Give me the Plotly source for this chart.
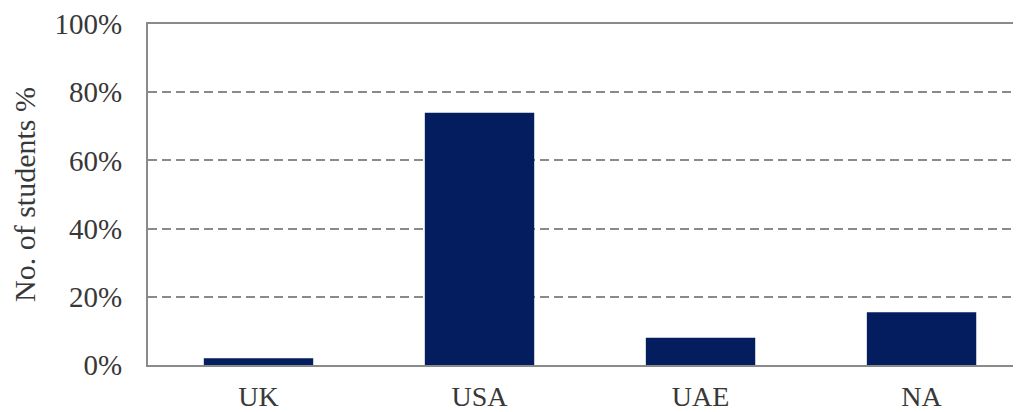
import plotly.graph_objects as go

categories = ["UK", "USA", "UAE", "NA"]
values = [2, 74, 8, 15.5]
y_ticks = [0, 20, 40, 60, 80, 100]
y_tick_labels = ["0%", "20%", "40%", "60%", "80%", "100%"]

fig = go.Figure()
fig.add_trace(go.Bar(
    x=categories, y=values,
    marker=dict(color="#041d5e", line=dict(width=0)),
))

font_family = "Liberation Serif, Times New Roman, serif"
# page body has an 8px margin, so figure is sized to fit the 1021x412 window
fig.update_layout(
    width=1013, height=404,
    margin=dict(l=140, r=0, t=16, b=47),
    plot_bgcolor="white", paper_bgcolor="white",
    bargap=0.505,
    showlegend=False,
    font=dict(family=font_family, size=28, color="#383838"),
)
fig.update_xaxes(
    range=[-0.5, 3.45], automargin=False,
    showline=True, linecolor="#8a8a8a", linewidth=2, mirror=True,
    ticks="outside", ticklen=5, tickcolor="rgba(0,0,0,0)",
    tickfont=dict(size=28, family=font_family, color="#383838"),
    showgrid=False,
)
fig.update_yaxes(
    range=[0, 100], automargin=False,
    tickvals=y_ticks, ticktext=y_tick_labels,
    showline=True, linecolor="#8a8a8a", linewidth=2,
    ticks="outside", ticklen=18, tickcolor="rgba(0,0,0,0)",
    tickfont=dict(size=29, family=font_family, color="#383838"),
    showgrid=True, gridcolor="#8a8a8a", gridwidth=2, griddash="9px,5px",
    zeroline=False,
    title=dict(text="No. of students %", font=dict(size=30, family=font_family, color="#383838"), standoff=10),
)
fig.write_html("out.html")
